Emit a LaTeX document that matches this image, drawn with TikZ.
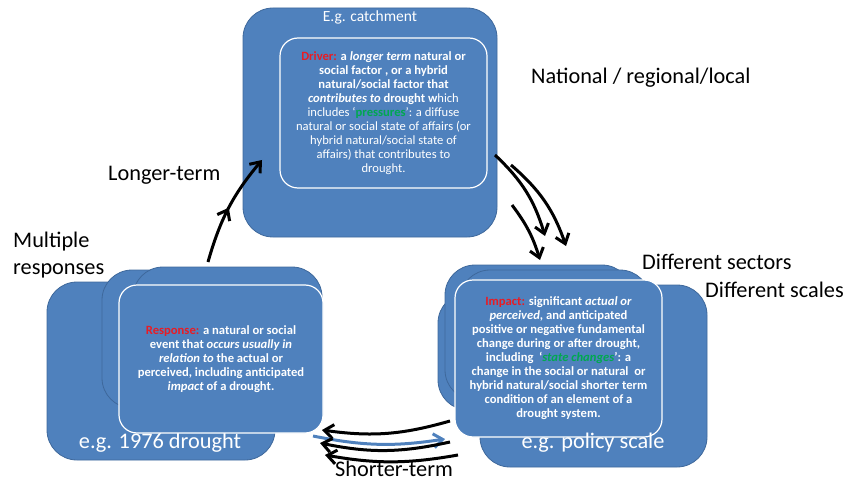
\documentclass[tikz,border=0pt]{standalone}
\usepackage{fontspec}
\setmainfont{Carlito}
\usetikzlibrary{positioning}
\usetikzlibrary{arrows.meta}
\usetikzlibrary{decorations.markings}
\definecolor{boxblue}{RGB}{79,129,189}
\definecolor{boxedge}{RGB}{62,104,155}
\definecolor{termred}{RGB}{232,28,36}
\definecolor{termgreen}{RGB}{0,168,80}

\tikzset{
  bluebox/.style={fill=boxblue, draw=boxedge, line width=0.8pt, rounded corners=30pt, inner sep=0pt},
  textbox/.style={bluebox, draw=white, line width=1.2pt, rounded corners=18pt},
  deftext/.style={text=white, font=\fontsize{12.6}{14}\selectfont\bfseries, align=center},
  scalelabel/.style={font=\fontsize{22.3}{27}\selectfont, align=left, inner sep=0pt},
  boxlabel/.style={text=white, font=\fontsize{22.3}{27}\selectfont, inner sep=0pt},
  cycarrow/.style={line width=3pt, -{Straight Barb[length=9pt,width=14pt]}},
  midbarb/.style={postaction={decorate}, decoration={markings,
      mark=at position 0.5 with {\arrow{Straight Barb[length=9pt,width=14pt]}}}}
}

\begin{document}
\begin{tikzpicture}[x=1pt, y=-1pt]
        \useasboundingbox (0,0) rectangle (845,481);

        % Driver (top)
        \node[bluebox, minimum width=254pt, minimum height=229pt] (catchBox) at (370,122.5) {};
        \node[text=white, font=\fontsize{15.5}{18}\selectfont, inner sep=0pt] (catchLabel) at (370,17) {E.g. catchment};
        \node[textbox, deftext, minimum width=207pt, minimum height=150pt] (driverBox) at (383.5,113) {%
            \textcolor{termred}{Driver:} a \textit{longer term} natural or \\
            social factor , or a hybrid \\
            natural/social factor that \\
            \textit{contributes to} drought w\mdseries hich \\
            \mdseries includes `\textcolor{termgreen}{\bfseries pressures}': a diffuse \\
            \mdseries natural or social state of affairs (or \\
            \mdseries hybrid natural/social state of \\
            \mdseries affairs) that contributes to \\
            \mdseries drought.
        };

        % Response (left)
        \node[bluebox, minimum width=228pt, minimum height=178pt] (respBack) at (161,371) {};
        \node[boxlabel] (respLabel) at (160,443) {e.g. 1976 drought};
        \node[bluebox, minimum width=208pt, minimum height=138pt] (respMidA) at (206,339) {};
        \node[bluebox, minimum width=189pt, minimum height=150pt] (respMidB) at (227.5,342) {};
        \node[textbox, deftext, minimum width=204pt, minimum height=148pt] (respBox) at (221,359) {%
            \textcolor{termred}{Response:} a natural or social \\
            event that \textit{occurs usually in} \\
            \textit{relation to} the actual or \\
            perceived, including anticipated \\
            \textit{impact} of a drought.
        };

        % Impact (right)
        \node[bluebox, minimum width=227pt, minimum height=182pt] (impBack) at (593.5,376) {};
        \node[bluebox, minimum width=180pt, minimum height=117pt] (impMidA) at (528,351.5) {};
        \node[bluebox, minimum width=187pt, minimum height=135pt] (impMidB) at (538.5,332.5) {};
        \node[bluebox, minimum width=190pt, minimum height=145pt] (impMidC) at (555,342.5) {};
        \node[textbox, deftext, minimum width=207pt, minimum height=157pt] (impBox) at (558.5,358.5) {%
            \textcolor{termred}{Impact:} significant \textit{actual or} \\
            \textit{perceived}, and anticipated \\
            positive or negative fundamental \\
            change during or after drought, \\
            including \ `\textcolor{termgreen}{\textit{state changes}}': a \\
            change in the social or natural \ or \\
            hybrid natural/social shorter term \\
            condition of an element of a \\
            drought system.
        };
        \node[boxlabel] (impLabel) at (593,443) {e.g. policy scale};

        % Labels
        \node[scalelabel, anchor=west] (multiLabel) at (13,255.5) {Multiple\\responses};
        \node[scalelabel, anchor=west] (longLabel) at (108,175) {Longer-term};
        \node[scalelabel, anchor=west] (nationalLabel) at (531,78) {National / regional/local};
        \node[scalelabel, anchor=west] (sectorLabel) at (642,262) {Different sectors};
        \node[scalelabel, anchor=west] (scaleLabel) at (705,290) {Different scales};
        \node[scalelabel] (shortLabel) at (394,469) {Shorter-term};

        % Arrows
        \coordinate (longStart) at (208,262);
        \coordinate (longEnd) at (262,160);
        \draw[cycarrow, midbarb] (longStart) to[bend left=12] (longEnd);

        \coordinate (impactInA) at (495,155);
        \coordinate (impactOutA) at (545,236);
        \coordinate (impactInB) at (511,165);
        \coordinate (impactOutB) at (566,246);
        \coordinate (impactInC) at (512,205);
        \coordinate (impactOutC) at (540,260);
        \draw[cycarrow] (impactInA) to[bend left=15] (impactOutA);
        \draw[cycarrow] (impactInB) to[bend left=15] (impactOutB);
        \draw[cycarrow] (impactInC) to[bend left=10] (impactOutC);

        \coordinate (shortInA) at (450,421);
        \coordinate (shortOutA) at (322,430);
        \coordinate (shortInB) at (450,442);
        \coordinate (shortOutB) at (320,443);
        \coordinate (shortInC) at (458,455);
        \coordinate (shortOutC) at (325,455);
        \coordinate (blueStart) at (313,436);
        \coordinate (blueEnd) at (445,439);
        \draw[cycarrow] (shortInA) to[bend left=12] (shortOutA);
        \draw[cycarrow, draw=boxblue] (blueStart) to[bend right=10] (blueEnd);
        \draw[cycarrow] (shortInB) to[bend left=12] (shortOutB);
        \draw[cycarrow] (shortInC) to[bend left=10] (shortOutC);

    \end{tikzpicture}
\end{document}
